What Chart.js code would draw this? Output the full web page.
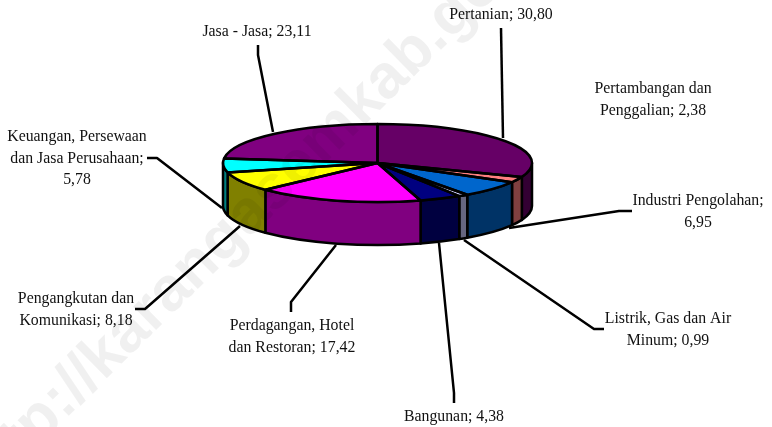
<!DOCTYPE html>
<html>
<head>
<meta charset="utf-8">
<script src="https://cdn.jsdelivr.net/npm/chart.js@4"></script>
<style>html,body{margin:0;padding:0;background:#fff}canvas{display:block}</style>
</head>
<body>
<canvas id="c" width="772" height="427"></canvas>
<script>
const categories = ["Pertanian","Pertambangan dan Penggalian","Industri Pengolahan","Listrik, Gas dan Air Minum","Bangunan","Perdagangan, Hotel dan Restoran","Pengangkutan dan Komunikasi","Keuangan, Persewaan dan Jasa Perusahaan","Jasa - Jasa"];
const values = [30.80,2.38,6.95,0.99,4.38,17.42,8.18,5.78,23.11];
const topColors = ["#660066","#FF8080","#0066CC","#CCCCFF","#000080","#FF00FF","#FFFF00","#00FFFF","#800080"];
const sideColors = ["#330033","#804040","#003366","#666680","#000040","#800080","#808000","#008080","#400040"];
const labelLines = [
  ["Pertanian; 30,80"],
  ["Pertambangan dan","Penggalian; 2,38"],
  ["Industri Pengolahan;","6,95"],
  ["Listrik, Gas dan Air","Minum; 0,99"],
  ["Bangunan; 4,38"],
  ["Perdagangan, Hotel","dan Restoran; 17,42"],
  ["Pengangkutan dan","Komunikasi; 8,18"],
  ["Keuangan, Persewaan","dan Jasa Perusahaan;","5,78"],
  ["Jasa - Jasa; 23,11"]
];
const labelX = [501,653,698,668,454,292,76,77,257];
const labelY = [15,89,201,319,417,326,299,137,32];
const leaders = [
  [[501,28],[503,138]],
  [],
  [[632,211],[619,211],[509,228]],
  [[604,329],[594,329],[464,240]],
  [[454,403],[454,393],[439,243]],
  [[291,312],[291,302],[336,245]],
  [[135,309],[145,309],[240,226]],
  [[147,158],[157,158],[222,208]],
  [[258,45],[258,55],[273,132]]
];
const view = {cx:377.5, cy:163, rx:154.5, ry:39, depth:43};

const pie3d = {
  id:"pie3d",
  beforeDatasetsDraw(chart){
    const ctx = chart.ctx, arcs = chart.getDatasetMeta(0).data;
    const {cx,cy,rx,ry,depth} = view;
    ctx.lineWidth = 2.5; ctx.strokeStyle = "#000"; ctx.lineJoin = "round";
    arcs.forEach((a,i)=>{
      const lo = Math.max(a.startAngle,0), hi = Math.min(a.endAngle,Math.PI);
      if(hi<=lo) return;
      ctx.beginPath();
      ctx.ellipse(cx,cy,rx,ry,0,lo,hi);
      ctx.ellipse(cx,cy+depth,rx,ry,0,hi,lo,true);
      ctx.closePath();
      ctx.fillStyle = sideColors[i];
      ctx.fill(); ctx.stroke();
    });
    const a0 = arcs[0], s = {x:rx/a0.outerRadius, y:ry/a0.outerRadius};
    ctx.save();
    ctx.translate(cx,cy);
    ctx.scale(s.x,s.y);
    ctx.translate(-a0.x,-a0.y);
  },
  afterDatasetsDraw(chart){
    const ctx = chart.ctx, arcs = chart.getDatasetMeta(0).data;
    const {cx,cy,rx,ry} = view;
    ctx.restore();
    ctx.lineWidth = 2.5; ctx.strokeStyle = "#000"; ctx.lineJoin = "round";
    arcs.forEach(a=>{
      ctx.beginPath();
      ctx.moveTo(cx,cy);
      ctx.ellipse(cx,cy,rx,ry,0,a.startAngle,a.endAngle);
      ctx.closePath();
      ctx.stroke();
    });
    leaders.forEach(l=>{
      if(!l.length) return;
      ctx.beginPath();
      l.forEach((p,j)=> j?ctx.lineTo(p[0],p[1]):ctx.moveTo(p[0],p[1]));
      ctx.stroke();
    });
    ctx.font = "15.8px 'Liberation Serif'";
    ctx.fillStyle = "#111";
    ctx.textAlign = "center"; ctx.textBaseline = "middle";
    labelLines.forEach((lines,i)=>{
      lines.forEach((t,j)=> ctx.fillText(t,labelX[i],labelY[i]+j*21.5));
    });
  },
  afterDraw(chart){
    const ctx = chart.ctx;
    ctx.save();
    ctx.translate(-19,502);
    ctx.rotate(-44.5*Math.PI/180);
    ctx.font = "bold 62px 'Liberation Sans'";
    ctx.fillStyle = "rgba(0,0,0,0.06)";
    ctx.textAlign = "left"; ctx.textBaseline = "alphabetic";
    ctx.fillText("http://karangasemkab.go.id",0,0);
    ctx.restore();
  }
};

new Chart(document.getElementById("c"),{
  type:"pie",
  data:{labels:categories,datasets:[{data:values,backgroundColor:topColors,borderWidth:0}]},
  options:{
    responsive:false,animation:false,
    plugins:{legend:{display:false},tooltip:{enabled:false}}
  },
  plugins:[pie3d]
});
</script>
</body>
</html>
